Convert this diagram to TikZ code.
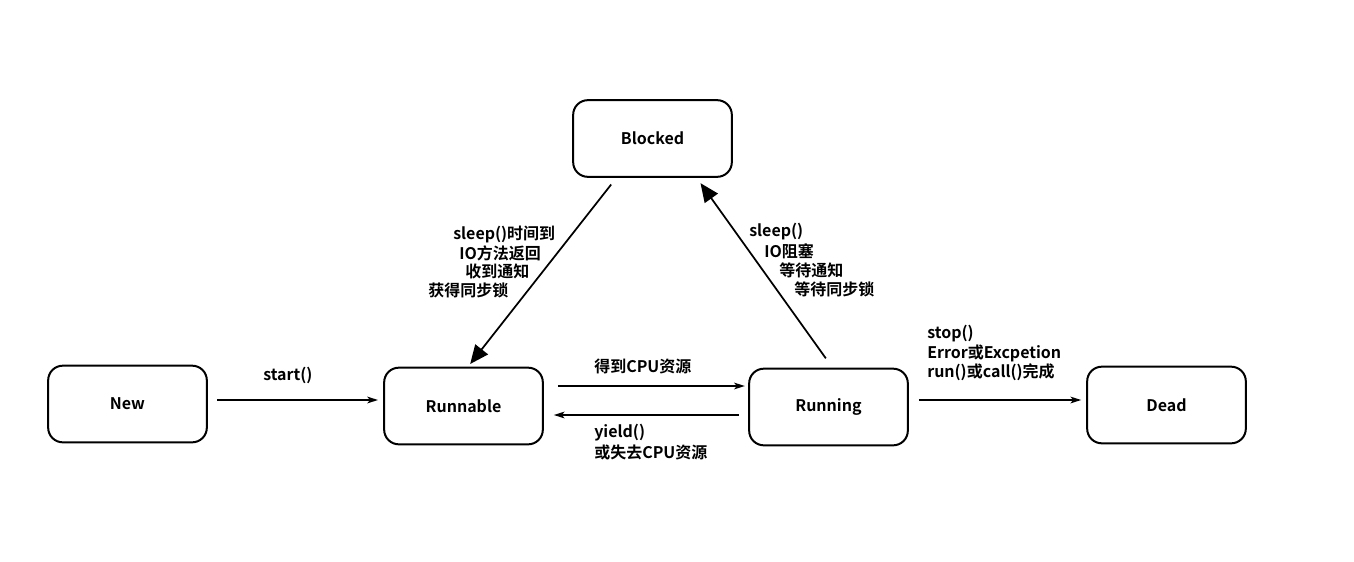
\documentclass[tikz,border=0pt]{standalone}
\usepackage{fontspec}
\setmainfont{Noto Sans CJK SC}[BoldFont=Noto Sans CJK SC Bold]
\usetikzlibrary{arrows.meta}
\begin{document}
\begin{tikzpicture}[x=0.75pt,y=-0.75pt,
  state/.style={draw,line width=1.5pt,rounded corners=11pt,minimum width=119pt,minimum height=57.5pt,font=\bfseries\fontsize{12}{14}\selectfont},
  lbl/.style={anchor=west,inner sep=0pt,font=\bfseries\fontsize{12}{14}\selectfont},
  conn/.style={line width=1.3pt,-{Stealth[length=8pt,width=5pt,inset=2pt]}},
  bigconn/.style={line width=1.3pt,-{Triangle[length=14pt,width=12pt]}}]
\useasboundingbox (0,0) rectangle (1354,561);
\node[state] (new) at (127.5,404) {New};
\node[state] (runnable) at (463.5,406) {Runnable};
\node[state] (running) at (828.5,407) {Running};
\node[state] (dead) at (1166.5,405) {Dead};
\node[state] (blocked) at (652.5,138.5) {Blocked};
% horizontal connectors
\coordinate (a1) at (217,400); \coordinate (a2) at (378,400);
\draw[conn] (a1) -- (a2);
\draw[conn] ([xshift=10.5pt,yshift=15pt]runnable.east) -- ([xshift=-2.5pt,yshift=15.75pt]running.west);
\draw[conn] ([xshift=-7pt,yshift=-6pt]running.west) -- ([xshift=7.5pt,yshift=-6.75pt]runnable.east);
\draw[conn] ([xshift=7.5pt,yshift=5.25pt]running.east) -- ([xshift=-3.75pt,yshift=3.75pt]dead.west);
% diagonal connectors
\draw[bigconn] ([xshift=-31pt,yshift=-5pt]blocked.south) -- ([xshift=5pt,yshift=2pt]runnable.north);
\draw[bigconn] ([xshift=-2pt,yshift=7pt]running.north) -- ([xshift=36pt,yshift=-4pt]blocked.south);
% labels
\node[lbl] (l1) at (263,375) {start()};
\node[lbl] (l2) at (594,366) {得到CPU资源};
\node[lbl] (l3) at (594,433) {yield()};
\node[lbl] (l4) at (594,452) {或失去CPU资源};
\node[lbl] (l5) at (927,334) {stop()};
\node[lbl] (l6) at (927,353) {Error或Excpetion};
\node[lbl] (l7) at (927,372) {run()或call()完成};
\node[lbl] (l8) at (453,234) {sleep()时间到};
\node[lbl] (l9) at (459,253) {IO方法返回};
\node[lbl] (l10) at (465,271) {收到通知};
\node[lbl] (l11) at (428,290) {获得同步锁};
\node[lbl] (l12) at (749,232) {sleep()};
\node[lbl] (l13) at (764,251) {IO阻塞};
\node[lbl] (l14) at (779,270) {等待通知};
\node[lbl] (l15) at (794,289) {等待同步锁};
\end{tikzpicture}
\end{document}
